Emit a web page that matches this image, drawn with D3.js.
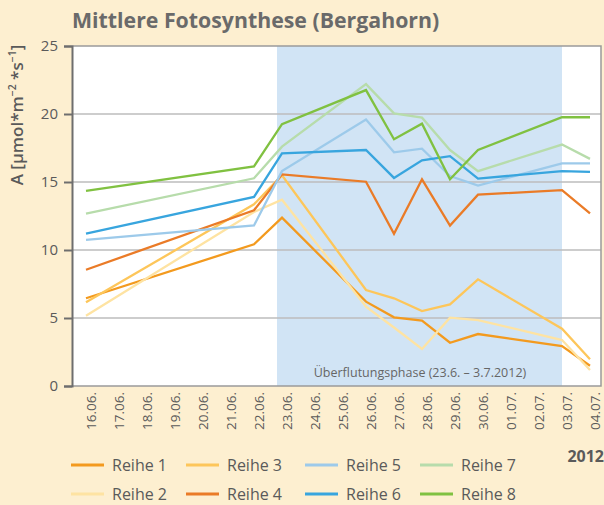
<!DOCTYPE html>
<html><head><meta charset="utf-8">
<script src="https://cdn.jsdelivr.net/npm/d3@7"></script>
<style>
html,body{margin:0;padding:0;background:#fdefd0;}
svg{display:block;font-family:"Open Sans","Noto Sans",sans-serif;}
</style></head><body>
<svg id="c" width="604" height="505"></svg>
<script>
const dates = ["16.06.","17.06.","18.06.","19.06.","20.06.","21.06.","22.06.","23.06.","24.06.","25.06.","26.06.","27.06.","28.06.","29.06.","30.06.","01.07.","02.07.","03.07.","04.07."];
const measureDays = ["16.06.","22.06.","23.06.","26.06.","27.06.","28.06.","29.06.","30.06.","03.07.","04.07."];
const seriesNames = ["Reihe 1","Reihe 2","Reihe 3","Reihe 4","Reihe 5","Reihe 6","Reihe 7","Reihe 8"];
const reihe1 = [6.45,10.42,12.38,6.2,5.05,4.8,3.18,3.82,2.94,1.49];
const reihe2 = [5.17,12.8,13.7,5.83,4.3,2.72,5.02,4.85,3.38,1.18];
const reihe3 = [6.15,13.36,15.5,7.06,6.45,5.51,6.0,7.84,4.21,1.96];
const reihe4 = [8.55,12.92,15.56,15.02,11.2,15.2,11.8,14.07,14.4,12.7];
const reihe5 = [10.74,11.8,15.8,19.6,17.18,17.45,15.44,14.73,16.37,16.37];
const reihe6 = [11.2,13.9,17.1,17.35,15.3,16.6,16.9,15.25,15.8,15.74];
const reihe7 = [12.67,15.27,17.6,22.2,20.05,19.73,17.35,15.8,17.75,16.7];
const reihe8 = [14.34,16.15,19.26,21.76,18.14,19.29,15.2,17.35,19.76,19.76];
const colors = ["#f39a1e","#fee3a2","#fdc65a","#ea7b27","#9dcaea","#38a5de","#b7dcab","#80c141"];
const yTicks = [0,5,10,15,20,25];
const floodStart = "23.06.", floodEnd = "03.07.";
const floodLabel = "Überflutungsphase (23.6. – 3.7.2012)";
const yearLabel = "2012";
const title = "Mittlere Fotosynthese (Bergahorn)";
const allSeries = [reihe1,reihe2,reihe3,reihe4,reihe5,reihe6,reihe7,reihe8];

const svg = d3.select("#c");
const L = 72, R = 601, T = 46, B = 386;
const x = d3.scalePoint().domain(dates).range([86, 590]);
const y = d3.scaleLinear().domain([0,25]).range([B, T]);

// plot background
svg.append("rect").attr("x",L).attr("y",T).attr("width",R-L).attr("height",B-T).attr("fill","#ffffff");
// flood band
svg.append("rect").attr("x",x(floodStart)-5).attr("y",T).attr("width",x(floodEnd)-x(floodStart)+5).attr("height",B-T).attr("fill","#d1e4f5");
// gridlines
svg.append("g").selectAll("line").data(yTicks.filter(d=>d>0&&d<25)).join("line")
  .attr("x1",L).attr("x2",R).attr("y1",d=>y(d)).attr("y2",d=>y(d))
  .attr("stroke","#bdbdbd").attr("stroke-width",1.5);
// frame top/right/bottom
svg.append("path").attr("d",`M${L},${T}H${R}V${B}H${L}`).attr("fill","none").attr("stroke","#9a9a9a").attr("stroke-width",1.5);

// flood label
svg.append("text").attr("x",(x(floodStart)+x(floodEnd))/2-2).attr("y",377).attr("text-anchor","middle")
  .attr("font-size",12.5).attr("fill","#666").text(floodLabel);

// lines
const line = d3.line().x((d,i)=>x(measureDays[i])).y(d=>y(d));
svg.append("g").selectAll("path").data(allSeries).join("path")
  .attr("d",line).attr("fill","none").attr("stroke",(d,i)=>colors[i])
  .attr("stroke-width",2.3).attr("stroke-linejoin","miter");

// y axis
const yAxis = d3.axisLeft(y).tickValues(yTicks).tickSize(8).tickPadding(6);
const gy = svg.append("g").attr("transform",`translate(${L},0)`).call(yAxis);
gy.select(".domain").attr("stroke","#6e6e6e").attr("stroke-width",2);
gy.selectAll(".tick line").attr("stroke","#6e6e6e").attr("stroke-width",2);
gy.selectAll(".tick text").attr("font-size",15).attr("fill","#5a5a5a").attr("font-family","Open Sans, sans-serif");

// x labels
const xAxis = d3.axisBottom(x).tickSize(0).tickPadding(0);
const gx = svg.append("g").attr("transform",`translate(0,${B})`).call(xAxis);
gx.select(".domain").remove();
gx.selectAll(".tick text").attr("font-size",13.5).attr("fill","#5a5a5a").attr("font-family","Open Sans, sans-serif")
  .attr("transform","rotate(-90)").attr("text-anchor","end").attr("x",-6).attr("y",4.5).attr("dy","0.35em").attr("dx",0);

// y title
const yt = svg.append("text").attr("transform","translate(23,115) rotate(-90)").attr("text-anchor","middle")
  .attr("font-size",17).attr("font-weight",600).attr("fill","#5a5a5a");
yt.append("tspan").text("A [µmol*m");
yt.append("tspan").attr("font-size",10.5).attr("dy",-7).text("−2");
yt.append("tspan").attr("dy",7).text(" *s");
yt.append("tspan").attr("font-size",10.5).attr("dy",-7).text("−1");
yt.append("tspan").attr("dy",7).text("]");

// title
svg.append("text").attr("x",72).attr("y",28).attr("font-size",21.3).attr("font-weight",700).attr("fill","#6a6a6a").text(title);

// year
svg.append("text").attr("x",604).attr("y",462).attr("text-anchor","end").attr("font-size",16).attr("font-weight",700).attr("fill","#5a5a5a").text(yearLabel);

// legend
const colX = [71,186,305,420];
const rowY = [465,494];
const lg = svg.append("g").selectAll("g").data(seriesNames).join("g")
  .attr("transform",(d,i)=>`translate(${colX[Math.floor(i/2)]},${rowY[i%2]})`);
lg.append("line").attr("x1",0).attr("x2",33).attr("y1",0).attr("y2",0).attr("stroke",(d,i)=>colors[i]).attr("stroke-width",3);
lg.append("text").attr("x",41).attr("y",0).attr("dy","0.35em").attr("font-size",16).attr("fill","#5a5a5a").text(d=>d);
</script>
</body></html>
